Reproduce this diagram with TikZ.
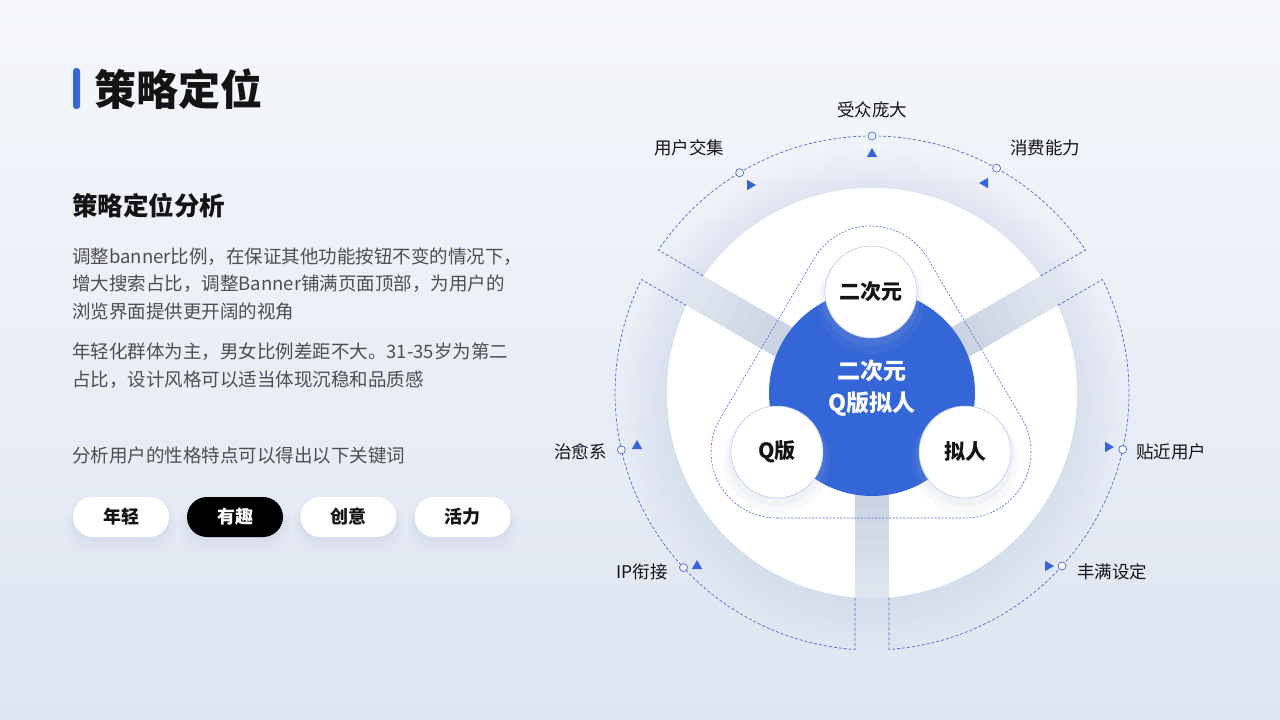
\documentclass[tikz,border=0pt]{standalone}
\usepackage{fontspec}
\setmainfont{Noto Sans CJK SC}
\usetikzlibrary{calc,shapes.geometric}
\definecolor{bgtop}{HTML}{F5F7FB}
\definecolor{bgbot}{HTML}{DEE5F1}
\definecolor{mainblue}{HTML}{3566D8}
\definecolor{dashblue}{HTML}{4A6BC9}
\definecolor{bandcol}{HTML}{DFE5EF}
\definecolor{shadowcol}{HTML}{AEBBD3}
\definecolor{bodytext}{HTML}{4F4F4F}
\definecolor{inktext}{HTML}{141414}
\begin{document}
\begin{tikzpicture}[x=1pt,y=1pt,
  lbl/.style={font=\fontsize{17.5}{20}\selectfont, text=inktext, inner sep=0},
  body/.style={font=\fontsize{18.5}{22}\selectfont, text=bodytext, anchor=west, inner sep=0},
  pill/.style={rounded corners=20pt, minimum width=96pt, minimum height=40pt, font=\fontsize{18}{20}\selectfont\bfseries, inner sep=0},
  pillshadow/.style={rounded corners=22pt, minimum width=100pt, minimum height=40pt, fill=shadowcol, opacity=0.10, inner sep=0},
  ring/.style={dashblue, line width=0.7pt, dash pattern=on 3pt off 2pt},
  hull/.style={dashblue, line width=0.6pt, dash pattern=on 2pt off 1.5pt},
  marker/.style={circle, draw=dashblue, fill=bgtop, line width=0.7pt, minimum size=8pt, inner sep=0},
  tri/.style={regular polygon, regular polygon sides=3, fill=mainblue, inner sep=0, minimum size=12pt},
  ball/.style={circle, fill=white, draw=mainblue!40, line width=0.5pt, minimum size=92pt, inner sep=0, font=\fontsize{21}{24}\selectfont\bfseries, text=inktext}
]
\useasboundingbox (0,0) rectangle (1280,-720);
\shade[top color=bgtop, bottom color=bgbot] (0,0) rectangle (1280,-720);

% ---------------- left panel ----------------
\fill[mainblue, rounded corners=3pt] (73,-68) rectangle (80,-109);
\node[anchor=west, inner sep=0, font=\fontsize{42}{46}\selectfont\bfseries, text=inktext] (title) at (94,-89) {策略定位};
\node[anchor=west, inner sep=0, font=\fontsize{25.5}{28}\selectfont\bfseries, text=inktext] (subtitle) at (72,-206) {策略定位分析};
\node[body] (p1) at (72,-257) {调整banner比例，在保证其他功能按钮不变的情况下，};
\node[body] (p2) at (72,-284) {增大搜索占比，调整Banner铺满页面顶部，为用户的};
\node[body] (p3) at (72,-312) {浏览界面提供更开阔的视角};
\node[body] (p4) at (72,-352) {年轻化群体为主，男女比例差距不大。31-35岁为第二};
\node[body] (p5) at (72,-380) {占比，设计风格可以适当体现沉稳和品质感};
\node[body] (p6) at (72,-455) {分析用户的性格特点可以得出以下关键词};

\foreach \x in {121,235,348.5,462.5}{
  \node[pillshadow, minimum width=110pt, minimum height=52pt, opacity=0.05] at (\x,-527) {};
  \node[pillshadow, minimum width=104pt, minimum height=46pt, opacity=0.07] at (\x,-525) {};
  \node[pillshadow, opacity=0.09] at (\x,-522) {};
}
\node[pill, fill=white, text=inktext] (k1) at (121,-517) {年轻};
\node[pill, fill=black, text=white] (k2) at (235,-517) {有趣};
\node[pill, fill=white, text=inktext] (k3) at (348.5,-517) {创意};
\node[pill, fill=white, text=inktext] (k4) at (462.5,-517) {活力};

% ---------------- right diagram ----------------
\coordinate (C) at (872,-393);
% soft shadow around the big disc
\foreach \r in {250,244,...,208}{
  \fill[shadowcol, opacity=0.022] ($(C)+(0,-5)$) circle (\r);
}
% dashed sector outlines
\def\dd{3.79}
\foreach \ga/\gb in {30/150,150/270,270/390}{
  \draw[ring] ($(C)+(\ga:204.3)+(\ga+90:17)$) -- ($(C)+(\ga:256.4)+(\ga+90:17)$)
     arc[start angle=\ga+\dd, end angle=\gb-\dd, radius=257]
     -- ($(C)+(\gb:204.3)+(\gb-90:17)$);
}
% big white disc with three bands
\node[circle, fill=white, minimum size=410pt, inner sep=0] (disc) at (C) {};
\begin{scope}
  \clip (C) circle (205.5);
  \foreach \g in {30,150,270}{
    \fill[bandcol] ($(C)+(\g+90:17)$) -- ($(C)+(\g+90:17)+(\g:222)$)
       -- ($(C)+(\g-90:17)+(\g:222)$) -- ($(C)+(\g-90:17)$) -- cycle;
    \foreach \len in {115,130,145,160,175,190}{
      \fill[shadowcol, opacity=0.07] ($(C)+(\g+90:17)$) -- ($(C)+(\g+90:17)+(\g:\len)$)
         -- ($(C)+(\g-90:17)+(\g:\len)$) -- ($(C)+(\g-90:17)$) -- cycle;
    }
  }
\end{scope}
% blue core
\node[circle, fill=mainblue, minimum size=206pt, inner sep=0] (core) at (C) {};

% rounded-triangle dashed hull
\coordinate (T) at (871,-292);
\coordinate (L) at (777,-452);
\coordinate (R) at (965,-452);
\draw[hull] ($(L)+(270:66)$) -- ($(R)+(270:66)$)
   arc[start angle=270, end angle=390.4, radius=66] -- ($(T)+(30.4:66)$)
   arc[start angle=30.4, end angle=149.6, radius=66] -- ($(L)+(149.6:66)$)
   arc[start angle=149.6, end angle=270, radius=66] -- cycle;

% shadows of the three balls
\foreach \p in {T,L,R}{
  \fill[shadowcol, opacity=0.08] ($(\p)+(0,-9)$) circle (53);
  \fill[shadowcol, opacity=0.10] ($(\p)+(0,-5)$) circle (49);
}
\node[ball] (b1) at (T) {二次元};
\node[ball] (b2) at (L) {Q版};
\node[ball] (b3) at (R) {拟人};

\node[inner sep=0, font=\fontsize{23}{26}\selectfont\bfseries, text=white, align=center] (ctext1) at (872,-371) {二次元};
\node[inner sep=0, font=\fontsize{23}{26}\selectfont\bfseries, text=white, align=center] (ctext2) at (872,-404) {Q版拟人};

% markers, arrows and labels
\node[marker] (m1) at ($(C)+(90:257)$) {};
\node[marker] (m2) at ($(C)+(121:257)$) {};
\node[marker] (m3) at ($(C)+(61:257)$) {};
\node[marker] (m4) at ($(C)+(192.8:257)$) {};
\node[marker] (m5) at ($(C)+(222.8:257)$) {};
\node[marker] (m6) at ($(C)+(-12.7:257)$) {};
\node[marker] (m7) at ($(C)+(-42.3:257)$) {};

\node[tri] (t1) at (872,-154) {};
\node[tri, rotate=-90] (t2) at (750,-185) {};
\node[tri, rotate=90] (t3) at (985,-183) {};
\node[tri] (t4) at (637,-446) {};
\node[tri] (t5) at (697,-566) {};
\node[tri, rotate=-90] (t6) at (1108,-447) {};
\node[tri, rotate=-90] (t7) at (1048,-566) {};

\node[lbl] (l1) at (872,-110) {受众庞大};
\node[lbl] (l2) at (689,-148) {用户交集};
\node[lbl] (l3) at (1045,-148) {消费能力};
\node[lbl, anchor=east] (l4) at (607,-452) {治愈系};
\node[lbl, anchor=east] (l5) at (668,-572) {IP衔接};
\node[lbl, anchor=west] (l6) at (1136,-452) {贴近用户};
\node[lbl, anchor=west] (l7) at (1077,-572) {丰满设定};
\end{tikzpicture}
\end{document}
